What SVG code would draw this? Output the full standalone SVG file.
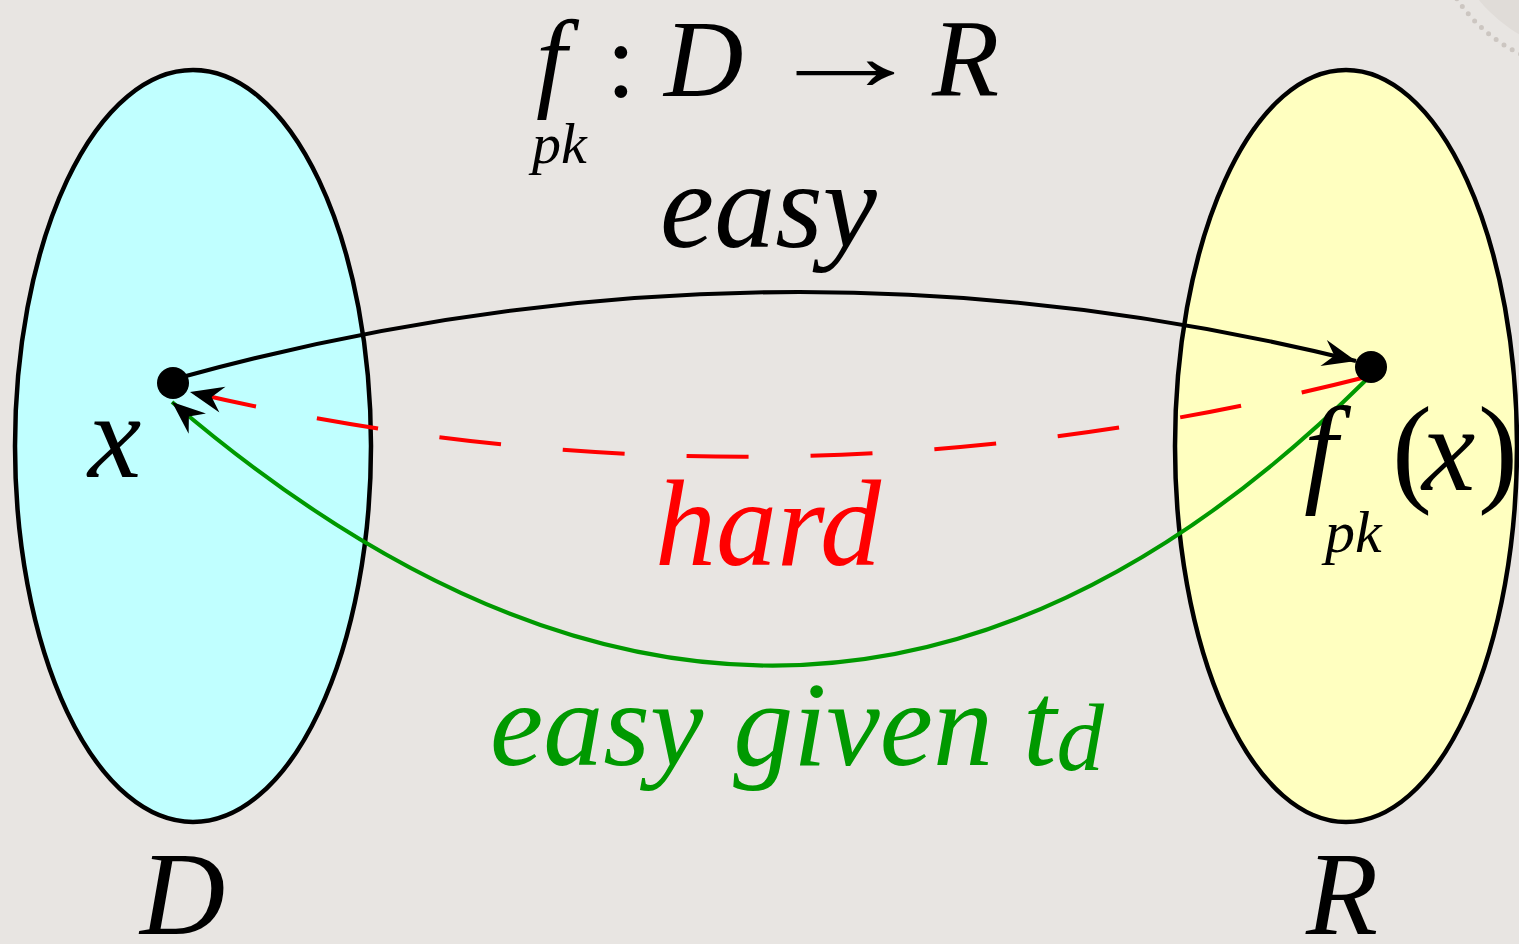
<svg xmlns="http://www.w3.org/2000/svg" width="1519" height="944" viewBox="0 0 1519 944">
<style>
.t{font-family:"Liberation Serif","Times New Roman",serif;font-style:italic}
.u{font-family:"Liberation Serif","Times New Roman",serif;font-style:normal}
.ell{stroke:#000;stroke-width:4.5}
.dot{fill:#000}
.conn{fill:none;stroke-width:4}
</style>
<defs>
<marker id="ahK" markerUnits="userSpaceOnUse" markerWidth="40" markerHeight="40" viewBox="-32 -15 36 30" refX="0" refY="0" orient="auto">
<path d="M0,0 L-30,-12 L-20,0 L-30,12 Z" fill="#000"/>
</marker>
</defs>
<rect width="1519" height="944" fill="#e8e5e2"/>
<g id="corner-decoration">
<circle cx="1590" cy="-90" r="143" fill="#e0dcd8"/>
<circle cx="1590" cy="-90" r="160" fill="none" stroke="#ccc6c1" stroke-width="5" stroke-linecap="round" stroke-dasharray="0 9.5"/>
</g>
<g id="node-D">
<ellipse class="ell" cx="193" cy="446" rx="178" ry="376" fill="#c0ffff"/>
<text class="t" x="140" y="934" font-size="118">D</text>
</g>
<g id="node-R">
<ellipse class="ell" cx="1346" cy="446" rx="171" ry="376" fill="#ffffc0"/>
<text class="t" x="1306" y="934" font-size="118">R</text>
</g>
<g id="title">
<text class="t" x="536" y="97" font-size="110">f</text>
<text class="t" x="532" y="163" font-size="58">pk</text>
<text class="u" x="606" y="96" font-size="108">:</text>
<text class="t" x="664" y="96" font-size="110">D</text>
<text class="u" transform="translate(845,90) scale(1.65,1)" x="0" y="0" font-size="100" text-anchor="middle">→</text>
<text class="t" x="932" y="96" font-size="110">R</text>
</g>
<g id="connectors">
<path class="conn" d="M186,376 Q770,216 1356,361" stroke="#000" marker-end="url(#ahK)"/>
<path class="conn" d="M1362,378 Q770,528 190,392" stroke="#ff0000" stroke-dasharray="62 62" marker-end="url(#ahK)"/>
<path class="conn" d="M1366,380 Q800,940 172,402" stroke="#009900" marker-end="url(#ahK)"/>
</g>
<g id="node-x">
<circle class="dot" cx="173" cy="383" r="16"/>
<text class="t" x="88" y="477" font-size="120">x</text>
</g>
<g id="node-fx">
<circle class="dot" cx="1371" cy="367" r="16"/>
<text class="t" x="1304" y="490" font-size="120">f<tspan class="u" x="1392">(</tspan><tspan x="1422">x</tspan><tspan class="u" x="1478">)</tspan></text>
<text class="t" x="1325" y="552" font-size="60">pk</text>
</g>
<g id="labels">
<text class="t" x="660" y="247" font-size="122">easy</text>
<text class="t" x="655" y="565" font-size="122" fill="#ff0000">hard</text>
<text class="t" x="490" y="765" font-size="120" fill="#009900">easy given t<tspan font-size="95" dy="5">d</tspan></text>
</g>
</svg>
